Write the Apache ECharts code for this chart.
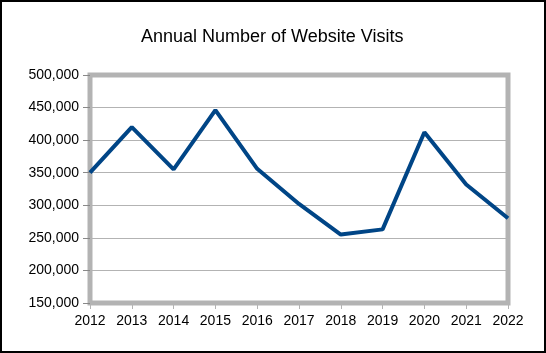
<!DOCTYPE html>
<html>
<head>
<meta charset="utf-8">
<script src="https://cdn.jsdelivr.net/npm/echarts@6/dist/echarts.min.js"></script>
<style>
html,body{margin:0;padding:0;background:#fff;}
#chart{width:546px;height:353px;}
</style>
</head>
<body>
<div id="chart"></div>
<script>
const title = 'Annual Number of Website Visits';
const years = ['2012','2013','2014','2015','2016','2017','2018','2019','2020','2021','2022'];
const visits = [350000, 420000, 355000, 446000, 356000, 302000, 255000, 263000, 412000, 332000, 280000];
const yMin = 150000, yMax = 500000, yStep = 50000;

const chart = echarts.init(document.getElementById('chart'), null, {renderer: 'canvas'});
const font = '"Liberation Sans", Arial, sans-serif';
chart.setOption({
  animation: false,
  backgroundColor: '#ffffff',
  title: {
    text: title,
    left: 136,
    top: 23,
    textStyle: {fontFamily: font, fontSize: 18, fontWeight: 'normal', color: '#000'}
  },
  graphic: [{
    type: 'rect',
    shape: {x: 1, y: 1, width: 544, height: 351},
    style: {fill: 'none', stroke: '#000', lineWidth: 2},
    z: 100
  }],
  grid: {
    left: 90, right: 38, top: 75, bottom: 50,
    show: true,
    borderColor: '#b3b3b3',
    borderWidth: 5,
    backgroundColor: '#fff'
  },
  xAxis: {
    type: 'category',
    data: years,
    boundaryGap: false,
    axisLine: {show: false},
    axisTick: {show: true, length: 6, lineStyle: {color: '#b3b3b3', width: 1}},
    axisLabel: {fontFamily: font, fontSize: 14, color: '#000', margin: 11},
    splitLine: {show: false}
  },
  yAxis: {
    type: 'value',
    min: yMin, max: yMax, interval: yStep,
    axisLine: {show: false},
    axisTick: {show: true, length: 7, lineStyle: {color: '#888', width: 1}},
    axisLabel: {
      fontFamily: font, fontSize: 14, color: '#000', margin: 11,
      formatter: v => v.toLocaleString('en-US')
    },
    splitLine: {show: true, lineStyle: {color: '#b3b3b3', width: 1}}
  },
  series: [{
    type: 'line',
    data: visits,
    showSymbol: false,
    lineStyle: {color: '#004586', width: 4},
    itemStyle: {color: '#004586'}
  }]
});
</script>
</body>
</html>
